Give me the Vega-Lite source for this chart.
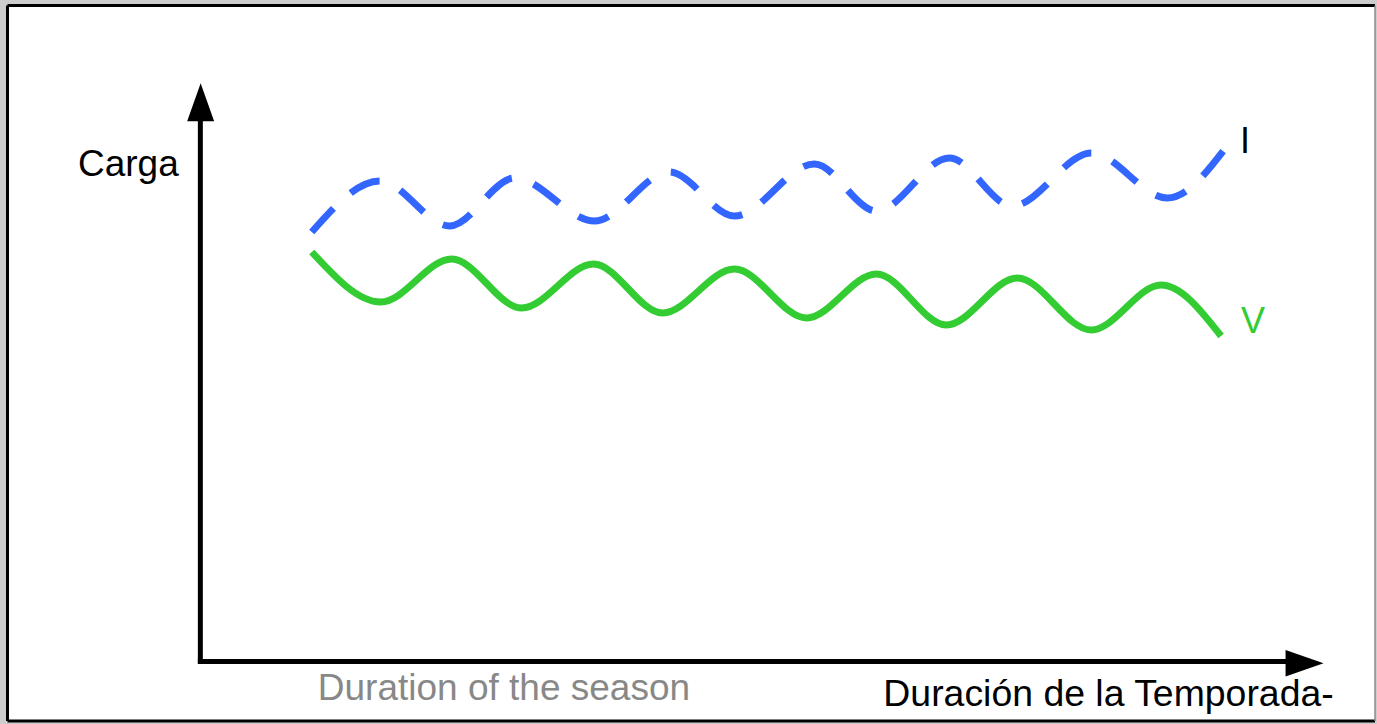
{
  "$schema": "https://vega.github.io/schema/vega-lite/v6.json",
  "width": 1377,
  "height": 724,
  "autosize": {"type": "fit", "contains": "padding"},
  "padding": 0,
  "background": "#cdcdcd",
  "config": {"view": {"stroke": null}},
  "datasets": {
    "frame": [{"x": 7.5, "x2": 1376, "y": 5.5, "y2": 721}],
    "frameDark": [
      {"x": 7.5, "x2": 1376, "y": 5.5, "y2": 5.5},
      {"x": 7.5, "x2": 7.5, "y": 5.5, "y2": 721},
      {"x": 7.5, "x2": 1376, "y": 721, "y2": 721}
    ],
    "frameLight": [{"x": 1376, "x2": 1376, "y": 5.5, "y2": 721}],
    "shafts": [
      {"x": 200.5, "x2": 200.5, "y": 663.5, "y2": 115},
      {"x": 198, "x2": 1292, "y": 661.5, "y2": 661.5}
    ],
    "headUp": [{"x": 200.8, "y": 102.3}],
    "headRight": [{"x": 1305.5, "y": 663.3}],
    "carga_I": [
      {"t": 312, "v": 232}, {"t": 380, "v": 181}, {"t": 450, "v": 226},
      {"t": 515, "v": 178}, {"t": 595, "v": 221}, {"t": 670, "v": 172},
      {"t": 735, "v": 216}, {"t": 815, "v": 164}, {"t": 877, "v": 211},
      {"t": 950, "v": 158}, {"t": 1013, "v": 206}, {"t": 1092, "v": 153},
      {"t": 1168, "v": 198}, {"t": 1228, "v": 146}
    ],
    "carga_V": [
      {"t": 312, "v": 252}, {"t": 381, "v": 302}, {"t": 452, "v": 259},
      {"t": 522, "v": 308}, {"t": 594, "v": 264}, {"t": 663, "v": 313},
      {"t": 735, "v": 269}, {"t": 807, "v": 318}, {"t": 877, "v": 274},
      {"t": 947, "v": 325}, {"t": 1018, "v": 278}, {"t": 1092, "v": 330},
      {"t": 1162, "v": 285}, {"t": 1222, "v": 336}
    ],
    "labelCarga": [{"x": 78, "y": 176, "label": "Carga"}],
    "labelI": [{"x": 1241, "y": 153, "label": "I"}],
    "labelDuracion": [{"x": 884, "y": 706, "label": "Duración de la Temporada-"}],
    "labelGreen": [{"x": 1242, "y": 333, "label": "V"}],
    "labelGray": [{"x": 318, "y": 700, "label": "Duration of the season"}]
  },
  "encoding": {
    "x": {"field": "x", "type": "quantitative", "scale": {"domain": [0, 1377], "nice": false, "zero": false}, "axis": null},
    "y": {"field": "y", "type": "quantitative", "scale": {"domain": [0, 724], "nice": false, "zero": false, "reverse": true}, "axis": null}
  },
  "layer": [
    {
      "data": {"name": "frame"},
      "mark": {"type": "rect", "fill": "white", "strokeWidth": 0},
      "encoding": {"x2": {"field": "x2"}, "y2": {"field": "y2"}}
    },
    {
      "data": {"name": "frameDark"},
      "mark": {"type": "rule", "color": "black", "strokeWidth": 3},
      "encoding": {"x2": {"field": "x2"}, "y2": {"field": "y2"}}
    },
    {
      "data": {"name": "frameLight"},
      "mark": {"type": "rule", "color": "#8a8a8a", "strokeWidth": 1.5},
      "encoding": {"x2": {"field": "x2"}, "y2": {"field": "y2"}}
    },
    {
      "data": {"name": "shafts"},
      "mark": {"type": "rule", "color": "black", "strokeWidth": 5, "strokeCap": "butt"},
      "encoding": {"x2": {"field": "x2"}, "y2": {"field": "y2"}}
    },
    {
      "data": {"name": "headUp"},
      "mark": {"type": "point", "filled": true, "color": "black", "opacity": 1, "size": 1444, "shape": "M0,-1L0.71,1L-0.71,1Z", "strokeWidth": 0}
    },
    {
      "data": {"name": "headRight"},
      "mark": {"type": "point", "filled": true, "color": "black", "opacity": 1, "size": 1444, "shape": "M1,0L-1,0.7L-1,-0.7Z", "strokeWidth": 0}
    },
    {
      "data": {"name": "carga_I"},
      "mark": {"type": "line", "color": "#3366ff", "strokeWidth": 7, "strokeDash": [32, 23], "strokeCap": "butt", "interpolate": "monotone"},
      "encoding": {"x": {"field": "t", "type": "quantitative"}, "y": {"field": "v", "type": "quantitative"}}
    },
    {
      "data": {"name": "carga_V"},
      "mark": {"type": "line", "color": "#33cc33", "strokeWidth": 7, "strokeCap": "butt", "interpolate": "monotone"},
      "encoding": {"x": {"field": "t", "type": "quantitative"}, "y": {"field": "v", "type": "quantitative"}}
    },
    {
      "data": {"name": "labelCarga"},
      "mark": {"type": "text", "align": "left", "baseline": "alphabetic", "font": "Liberation Sans", "fontSize": 37, "color": "black"},
      "encoding": {"text": {"field": "label"}}
    },
    {
      "data": {"name": "labelI"},
      "mark": {"type": "text", "align": "left", "baseline": "alphabetic", "font": "Liberation Sans", "fontSize": 36, "color": "black"},
      "encoding": {"text": {"field": "label"}}
    },
    {
      "data": {"name": "labelDuracion"},
      "mark": {"type": "text", "align": "left", "baseline": "alphabetic", "font": "Liberation Sans", "fontSize": 37.4, "color": "black"},
      "encoding": {"text": {"field": "label"}}
    },
    {
      "data": {"name": "labelGreen"},
      "mark": {"type": "text", "align": "left", "baseline": "alphabetic", "font": "Liberation Sans", "fontSize": 36, "color": "#33cc33"},
      "encoding": {"text": {"field": "label"}}
    },
    {
      "data": {"name": "labelGray"},
      "mark": {"type": "text", "align": "left", "baseline": "alphabetic", "font": "Liberation Sans", "fontSize": 37, "color": "#888888"},
      "encoding": {"text": {"field": "label"}}
    }
  ]
}
